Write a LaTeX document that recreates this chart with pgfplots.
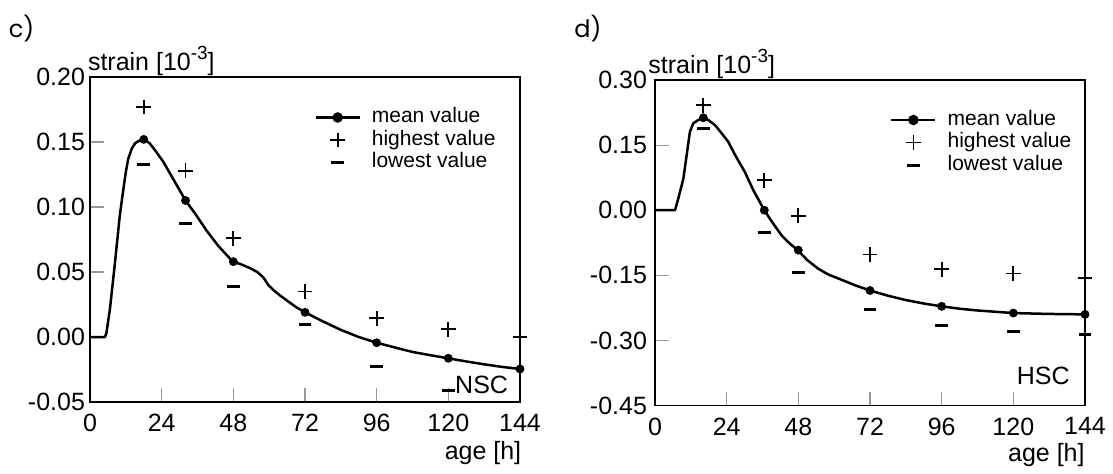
\documentclass[border=0pt]{standalone}
\usepackage{fontspec}
\setmainfont{Liberation Sans}
\newfontfamily\labfont{Poppins}
\usepackage{pgfplots}
\pgfplotsset{compat=1.18}

\pgfplotsset{
 strainaxis/.style={
  scale only axis, width=215pt,
  xmin=0, xmax=144, xtick={0,24,48,72,96,120,144},
  axis line style={black, line width=0.9pt},
  tick style={gray!80, line width=0.6pt},
  major tick length=7pt,
  tick align=inside,
  xtick pos=bottom, ytick pos=left,
  ticklabel style={font=\fontsize{12.5}{14}\selectfont},
  /pgf/number format/assume math mode=true,
  y tick label style={/pgf/number format/.cd, fixed, fixed zerofill, precision=2, /tikz/.cd},
  legend cell align=left,
  legend style={draw=none, fill=none, inner sep=0pt, outer sep=0pt, anchor=north west,
    font=\fontsize{10.5}{12}\selectfont, row sep=0pt, column sep=5.5pt,
    nodes={inner sep=0pt, text height=8.25pt, text depth=3pt}},
 },
 meanline/.style={black, line width=1.25pt, line join=round, mark=none},
 meandots/.style={only marks, mark=*, mark size=2pt, black},
 hi/.style={only marks, mark=+, mark size=3.7pt, line width=0.9pt, black},
 lo/.style={only marks, mark=-, mark size=3.2pt, line width=1.5pt, black},
 legmean/.style={black, line width=1.2pt, mark=*, mark size=2pt,
   legend image code/.code={\draw[mark repeat=2,mark phase=2] plot coordinates {(0pt,0pt)(11pt,0pt)(22pt,0pt)};}},
 legmark/.style={legend image code/.code={\path[draw=none] (0pt,0pt) -- (22pt,0pt); \draw plot coordinates {(11pt,0pt)};}},
}
\newcommand{\strainlabel}{strain [10\raisebox{0.42em}{\fontsize{9.5}{10}\selectfont -3}]}

\begin{document}
\begin{tikzpicture}
\path[use as bounding box] (0pt,0pt) rectangle (556.5pt,-236.5pt);

% ---------------- c) NSC ----------------
\begin{axis}[strainaxis, at={(45pt,-201pt)}, anchor=south west, height=162.5pt,
  ymin=-0.05, ymax=0.2, ytick={-0.05,0,0.05,0.1,0.15,0.2},
  yticklabel style={xshift=1pt}, xticklabel style={yshift=-2.5pt},
  legend style={at={(0.522,0.910)}}]
\addplot[meanline, forget plot] coordinates {
(0,0)(5,0)(5.5,0.003)(6.7,0.022)(8.4,0.058)(10.0,0.094)(11.2,0.114)(12.0,0.127)(12.8,0.137)
(14.0,0.145)(15.1,0.149)(16.5,0.151)(18.1,0.152)(20,0.149)(22,0.143)(24.5,0.135)(28,0.121)
(32,0.105)(35.5,0.094)(39,0.082)(43,0.070)(47.8,0.058)(50.5,0.056)(53.6,0.053)(56,0.050)
(58,0.046)(59.7,0.040)(61.5,0.036)(63.6,0.032)(66,0.028)(69,0.023)(72,0.019)(78,0.012)
(84,0.0055)(90,0.0)(96,-0.0044)(102,-0.008)(108,-0.0115)(114,-0.014)(120,-0.0164)
(126,-0.0188)(132,-0.021)(138,-0.023)(144,-0.0246)};
\addplot[meandots, forget plot] coordinates {
(18,0.152)(32,0.105)(48,0.058)(72,0.019)(96,-0.0044)(120,-0.0164)(144,-0.0246)};
\addplot[hi, forget plot] coordinates {
(18,0.177)(32,0.128)(48,0.076)(72,0.035)(96,0.0144)(120,0.006)(144,0.0)};
\addplot[lo, forget plot] coordinates {
(18,0.133)(32,0.0875)(48,0.039)(72,0.010)(96,-0.0228)(120,-0.0415)};
\addlegendimage{legmean}
\addlegendentry{mean value}
\addlegendimage{hi, legmark}
\addlegendentry{highest value}
\addlegendimage{lo, legmark}
\addlegendentry{lowest value}
\end{axis}

% ---------------- d) HSC ----------------
\begin{axis}[strainaxis, at={(327.5pt,-202.75pt)}, anchor=south west, height=162.75pt,
  ymin=-0.45, ymax=0.3, ytick={-0.45,-0.3,-0.15,0,0.15,0.3},
  yticklabel style={xshift=-0.5pt}, xticklabel style={yshift=-2.5pt},
  legend style={at={(0.547,0.9117)}}]
\addplot[meanline, forget plot] coordinates {
(0,0)(6.7,0)(7.8,0.027)(9.5,0.073)(10.6,0.127)(11.7,0.181)(12.8,0.200)(14.5,0.208)
(16.2,0.213)(18,0.207)(20.1,0.196)(22,0.180)(24.5,0.158)(27,0.125)(30.1,0.088)(33,0.045)
(36.6,0.0)(39.5,-0.030)(42.4,-0.058)(45,-0.076)(47.8,-0.092)(51,-0.115)(54.7,-0.135)
(58,-0.148)(63.1,-0.162)(67,-0.173)(72,-0.185)(78,-0.197)(84,-0.207)(90,-0.215)
(96,-0.2215)(102,-0.227)(108,-0.231)(114,-0.234)(120,-0.237)(126,-0.238)(132,-0.239)
(138,-0.2395)(144,-0.240)};
\addplot[meandots, forget plot] coordinates {
(16.2,0.213)(36.6,0.0)(48,-0.092)(72,-0.185)(96,-0.2215)(120,-0.237)(144,-0.240)};
\addplot[hi, forget plot] coordinates {
(16.2,0.242)(36.6,0.069)(48,-0.013)(72,-0.102)(96,-0.136)(120,-0.146)(144,-0.156)};
\addplot[lo, forget plot] coordinates {
(16.2,0.189)(36.6,-0.052)(48,-0.144)(72,-0.229)(96,-0.265)(120,-0.279)(144,-0.287)};
\addlegendimage{legmean}
\addlegendentry{mean value}
\addlegendimage{hi, legmark}
\addlegendentry{highest value}
\addlegendimage{lo, legmark}
\addlegendentry{lowest value}
\end{axis}

% ---------------- texts ----------------
\node[font=\labfont\fontsize{12}{14}\selectfont, inner sep=0pt] at (10.8pt,-14.5pt) {c)};
\node[font=\labfont\fontsize{12}{14}\selectfont, inner sep=0pt] at (294pt,-14.5pt) {d)};
\node[anchor=base west, inner sep=0pt, font=\fontsize{12.5}{14}\selectfont] at (43.8pt,-35pt) {\strainlabel};
\node[anchor=base west, inner sep=0pt, font=\fontsize{12.5}{14}\selectfont] at (324pt,-36.5pt) {\strainlabel};
\node[anchor=base east, inner sep=0pt, font=\fontsize{12.5}{14}\selectfont] at (260.8pt,-229.6pt) {age [h]};
\node[anchor=base east, inner sep=0pt, font=\fontsize{12.5}{14}\selectfont] at (542.5pt,-230.8pt) {age [h]};
\node[anchor=base east, inner sep=0pt, font=\fontsize{12.5}{14}\selectfont] at (254.2pt,-196.7pt) {NSC};
\node[anchor=base east, inner sep=0pt, font=\fontsize{12.5}{14}\selectfont] at (535pt,-192.2pt) {HSC};
\end{tikzpicture}
\end{document}
